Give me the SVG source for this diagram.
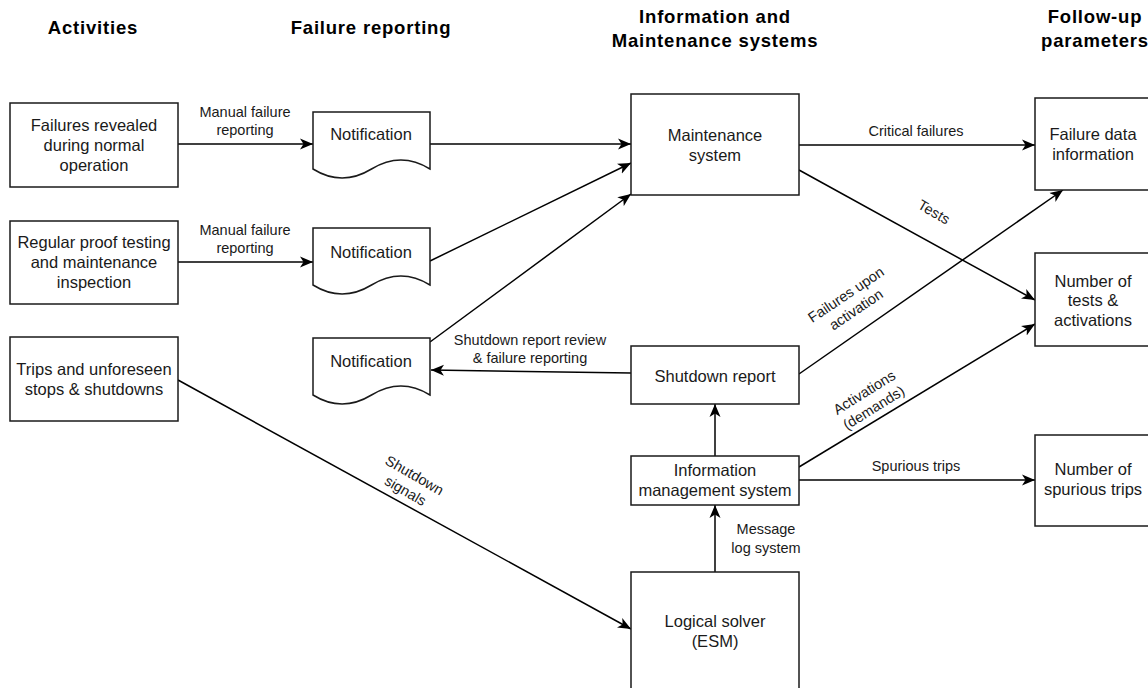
<svg xmlns="http://www.w3.org/2000/svg" width="1148" height="688" viewBox="0 0 1148 688">
  <style>
    .box { fill: #ffffff; stroke: #1a1a1a; stroke-width: 1.5; }
    .node { font-family: "Liberation Sans", Arial, sans-serif; font-size: 16.5px; fill: #1a1a1a; text-anchor: middle; }
    .lbl { font-family: "Liberation Sans", Arial, sans-serif; font-size: 14.5px; fill: #1a1a1a; text-anchor: middle; }
    .hdr { font-family: "Liberation Sans", Arial, sans-serif; font-size: 18.5px; font-weight: bold; letter-spacing: 0.8px; fill: #000000; text-anchor: middle; }
    .edge { fill: none; stroke: #000000; stroke-width: 1.5; marker-end: url(#arrow); }
  </style>
  <defs>
    <marker id="arrow" markerUnits="userSpaceOnUse" markerWidth="14" markerHeight="12" refX="13" refY="6" orient="auto">
      <path d="M0,0.5 L13,6 L0,11.5 L3.5,6 Z" fill="#000000"/>
    </marker>
    <!-- document shape with wavy bottom, 117 x 67 -->
    <path id="doc" d="M0,0 H117 V57 Q88,39 58.5,57 Q29,75 0,57 Z"/>
  </defs>
  <rect width="1148" height="688" fill="#ffffff"/>

  <!-- column headers -->
  <g id="headers">
    <text class="hdr" x="93" y="34">Activities</text>
    <text class="hdr" x="371" y="34">Failure reporting</text>
    <text class="hdr" x="715" y="23">Information and</text>
    <text class="hdr" x="715" y="47">Maintenance systems</text>
    <text class="hdr" x="1095" y="23">Follow-up</text>
    <text class="hdr" x="1095" y="47">parameters</text>
  </g>

  <!-- connectors -->
  <g id="connectors">
    <path class="edge" d="M178,144 L313,144"/>
    <path class="edge" d="M178,262 L313,262"/>
    <path class="edge" d="M430,144 L631,144"/>
    <path class="edge" d="M430,261 L631,163"/>
    <path class="edge" d="M430,342 L631,194"/>
    <path class="edge" d="M631,373 L431,370"/>
    <path class="edge" d="M178,380 L631,629"/>
    <path class="edge" d="M715,572 L715,505"/>
    <path class="edge" d="M715,456 L715,404"/>
    <path class="edge" d="M799,145 L1035,145"/>
    <path class="edge" d="M799,170 L1035,300"/>
    <path class="edge" d="M799,374 L1063,190"/>
    <path class="edge" d="M799,467 L1035,324"/>
    <path class="edge" d="M799,480 L1035,480"/>

    <g id="edge-labels">
      <text class="lbl" x="245" y="117">Manual failure</text>
      <text class="lbl" x="245" y="135">reporting</text>
      <text class="lbl" x="245" y="235">Manual failure</text>
      <text class="lbl" x="245" y="253">reporting</text>
      <text class="lbl" x="530" y="345">Shutdown report review</text>
      <text class="lbl" x="530" y="363">&amp; failure reporting</text>
      <text class="lbl" x="766" y="534">Message</text>
      <text class="lbl" x="766" y="553">log system</text>
      <text class="lbl" x="916" y="136">Critical failures</text>
      <text class="lbl" x="916" y="471">Spurious trips</text>
      <g transform="translate(934,212) rotate(30)">
        <text class="lbl" x="0" y="5">Tests</text>
      </g>
      <g transform="translate(851,302) rotate(-34)">
        <text class="lbl" x="0" y="-4">Failures upon</text>
        <text class="lbl" x="0" y="14">activation</text>
      </g>
      <g transform="translate(869,400) rotate(-32)">
        <text class="lbl" x="0" y="-4">Activations</text>
        <text class="lbl" x="0" y="14">(demands)</text>
      </g>
      <g transform="translate(410,483) rotate(30)">
        <text class="lbl" x="0" y="-4">Shutdown</text>
        <text class="lbl" x="0" y="14">signals</text>
      </g>
    </g>
  </g>

  <!-- activities -->
  <g id="failures-revealed">
    <rect class="box" x="10" y="103" width="168" height="84"/>
    <text class="node" x="94" y="131">Failures revealed</text>
    <text class="node" x="94" y="151">during normal</text>
    <text class="node" x="94" y="171">operation</text>
  </g>
  <g id="proof-testing">
    <rect class="box" x="10" y="221" width="168" height="83"/>
    <text class="node" x="94" y="248">Regular proof testing</text>
    <text class="node" x="94" y="268">and maintenance</text>
    <text class="node" x="94" y="288">inspection</text>
  </g>
  <g id="trips">
    <rect class="box" x="10" y="337" width="168" height="84"/>
    <text class="node" x="94" y="375">Trips and unforeseen</text>
    <text class="node" x="94" y="395">stops &amp; shutdowns</text>
  </g>

  <!-- failure reporting -->
  <g id="notification-1">
    <use href="#doc" x="313" y="112" class="box"/>
    <text class="node" x="371" y="140">Notification</text>
  </g>
  <g id="notification-2">
    <use href="#doc" x="313" y="228" class="box"/>
    <text class="node" x="371" y="258">Notification</text>
  </g>
  <g id="notification-3">
    <use href="#doc" x="313" y="338" class="box"/>
    <text class="node" x="371" y="367">Notification</text>
  </g>

  <!-- information and maintenance systems -->
  <g id="maintenance-system">
    <rect class="box" x="631" y="94" width="168" height="101"/>
    <text class="node" x="715" y="141">Maintenance</text>
    <text class="node" x="715" y="161">system</text>
  </g>
  <g id="shutdown-report">
    <rect class="box" x="631" y="346" width="168" height="58"/>
    <text class="node" x="715" y="382">Shutdown report</text>
  </g>
  <g id="information-management">
    <rect class="box" x="631" y="456" width="168" height="49"/>
    <text class="node" x="715" y="476">Information</text>
    <text class="node" x="715" y="496">management system</text>
  </g>
  <g id="logical-solver">
    <rect class="box" x="631" y="572" width="168" height="118"/>
    <text class="node" x="715" y="627">Logical solver</text>
    <text class="node" x="715" y="647">(ESM)</text>
  </g>

  <!-- follow-up parameters -->
  <g id="failure-data">
    <rect class="box" x="1035" y="98" width="117" height="92"/>
    <text class="node" x="1093" y="140">Failure data</text>
    <text class="node" x="1093" y="160">information</text>
  </g>
  <g id="tests-activations">
    <rect class="box" x="1035" y="253" width="117" height="93"/>
    <text class="node" x="1093" y="287">Number of</text>
    <text class="node" x="1093" y="306">tests &amp;</text>
    <text class="node" x="1093" y="326">activations</text>
  </g>
  <g id="spurious-trips">
    <rect class="box" x="1035" y="435" width="117" height="91"/>
    <text class="node" x="1093" y="475">Number of</text>
    <text class="node" x="1093" y="495">spurious trips</text>
  </g>
</svg>
